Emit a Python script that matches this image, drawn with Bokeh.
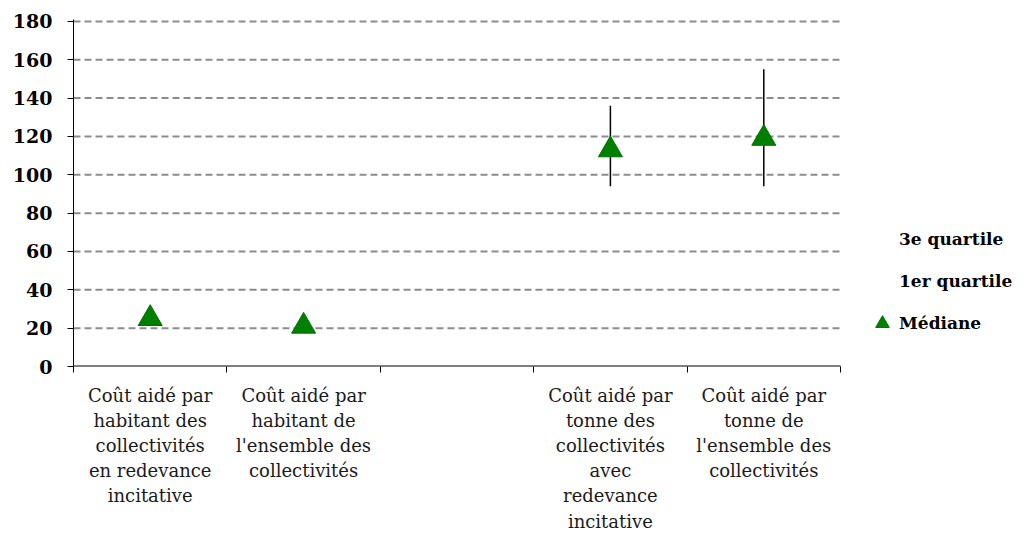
from bokeh.plotting import figure
from bokeh.models import ColumnDataSource, FixedTicker, Legend, LegendItem
from bokeh.embed import file_html
from bokeh.resources import INLINE

categories = [
    "Coût aidé par\nhabitant des\ncollectivités\nen redevance\nincitative",
    "Coût aidé par\nhabitant de\nl'ensemble des\ncollectivités",
    "",
    "Coût aidé par\ntonne des\ncollectivités\navec\nredevance\nincitative",
    "Coût aidé par\ntonne de\nl'ensemble des\ncollectivités",
]
mediane = [25, 21, None, 113, 119]
quartile1 = [24, 20, None, 94, 94]
quartile3 = [27, 23, None, 136, 155]
y_ticks = [0, 20, 40, 60, 80, 100, 120, 140, 160, 180]

xs, med, q1, q3 = [], [], [], []
for i, (m, a, b) in enumerate(zip(mediane, quartile1, quartile3)):
    if m is None:
        continue
    xs.append(i + 1)
    med.append(m)
    q1.append(a)
    q3.append(b)
src = ColumnDataSource(dict(x=xs, med=med, q1=q1, q3=q3))

n = len(categories)
W, H = 1017, 534
LEFT, TOP = 73, 19
PLOT_W = 767          # width used by the categories
FRAME_W = W - LEFT    # frame extends to the right edge to host the legend
x_start = 0.5
x_end_cat = n + 0.5
x_end = x_start + n * FRAME_W / PLOT_W

p = figure(width=W, height=H, output_backend="svg", toolbar_location=None,
           x_range=(x_start, x_end), y_range=(0, 181),
           min_border_left=LEFT, min_border_right=0, min_border_top=TOP,
           min_border_bottom=168)
p.outline_line_color = None
p.background_fill_color = "white"
p.xgrid.grid_line_color = None
p.ygrid.grid_line_color = None

SERIF = "DejaVu Serif"

# y axis
p.yaxis.ticker = FixedTicker(ticks=y_ticks)
p.yaxis.axis_line_color = "black"
p.yaxis.major_tick_line_color = "black"
p.yaxis.major_tick_out = 6
p.yaxis.major_tick_in = 0
p.yaxis.minor_tick_line_color = None
p.yaxis.major_label_text_font = SERIF
p.yaxis.major_label_text_font_style = "bold"
p.yaxis.major_label_text_font_size = "19px"
p.yaxis.major_label_text_color = "black"
p.yaxis.major_label_standoff = 15

# x axis (line drawn separately so it stops at the last category)
p.xaxis.ticker = FixedTicker(ticks=list(range(1, n + 1)),
                             minor_ticks=[k + 0.5 for k in range(0, n + 1)])
p.xaxis.major_label_overrides = {i + 1: c for i, c in enumerate(categories)}
p.xaxis.axis_line_color = None
p.xaxis.major_tick_line_color = None
p.xaxis.minor_tick_line_color = "black"
p.xaxis.minor_tick_out = 6
p.xaxis.minor_tick_in = 0
p.xaxis.major_label_text_font = SERIF
p.xaxis.major_label_text_font_size = "18px"
p.xaxis.major_label_text_color = "#1a1a1a"
p.xaxis.major_label_text_line_height = 1.2
p.xaxis.major_label_standoff = 12

# horizontal dashed grid lines, limited to the category area
grid_y = [t for t in y_ticks if t > 0]
p.segment(x0=[x_start] * len(grid_y), y0=grid_y,
          x1=[x_end_cat] * len(grid_y), y1=grid_y,
          line_color="#8c8c8c", line_width=2, line_dash="7 4")
# x axis line
p.segment(x0=[x_start], y0=[0], x1=[x_end_cat], y1=[0],
          line_color="black", line_width=2)

seg = p.segment(x0="x", y0="q1", x1="x", y1="q3", source=src,
                line_color="black", line_width=1.5)
tri = p.scatter(x="x", y="med", source=src, marker="triangle", size=24,
                fill_color="#008000", line_color="#007000", line_width=1)

# invisible renderers for quartile legend entries
inv3 = p.scatter(x=[1], y=[-50], size=1, alpha=0)
inv1 = p.scatter(x=[1], y=[-50], size=1, alpha=0)

legend = Legend(items=[
    LegendItem(label="3e quartile", renderers=[inv3]),
    LegendItem(label="1er quartile", renderers=[inv1]),
    LegendItem(label="Médiane", renderers=[tri]),
], location=(792, 26))
legend.border_line_color = None
legend.background_fill_alpha = 0
legend.padding = 0
legend.margin = 0
legend.spacing = 8
legend.glyph_width = 34
legend.glyph_height = 34
legend.label_height = 34
legend.label_standoff = -4
legend.label_text_font = SERIF
legend.label_text_font_style = "bold"
legend.label_text_font_size = "17px"
legend.label_text_color = "black"
p.add_layout(legend)

open("out.html", "w").write(file_html(p, INLINE))
